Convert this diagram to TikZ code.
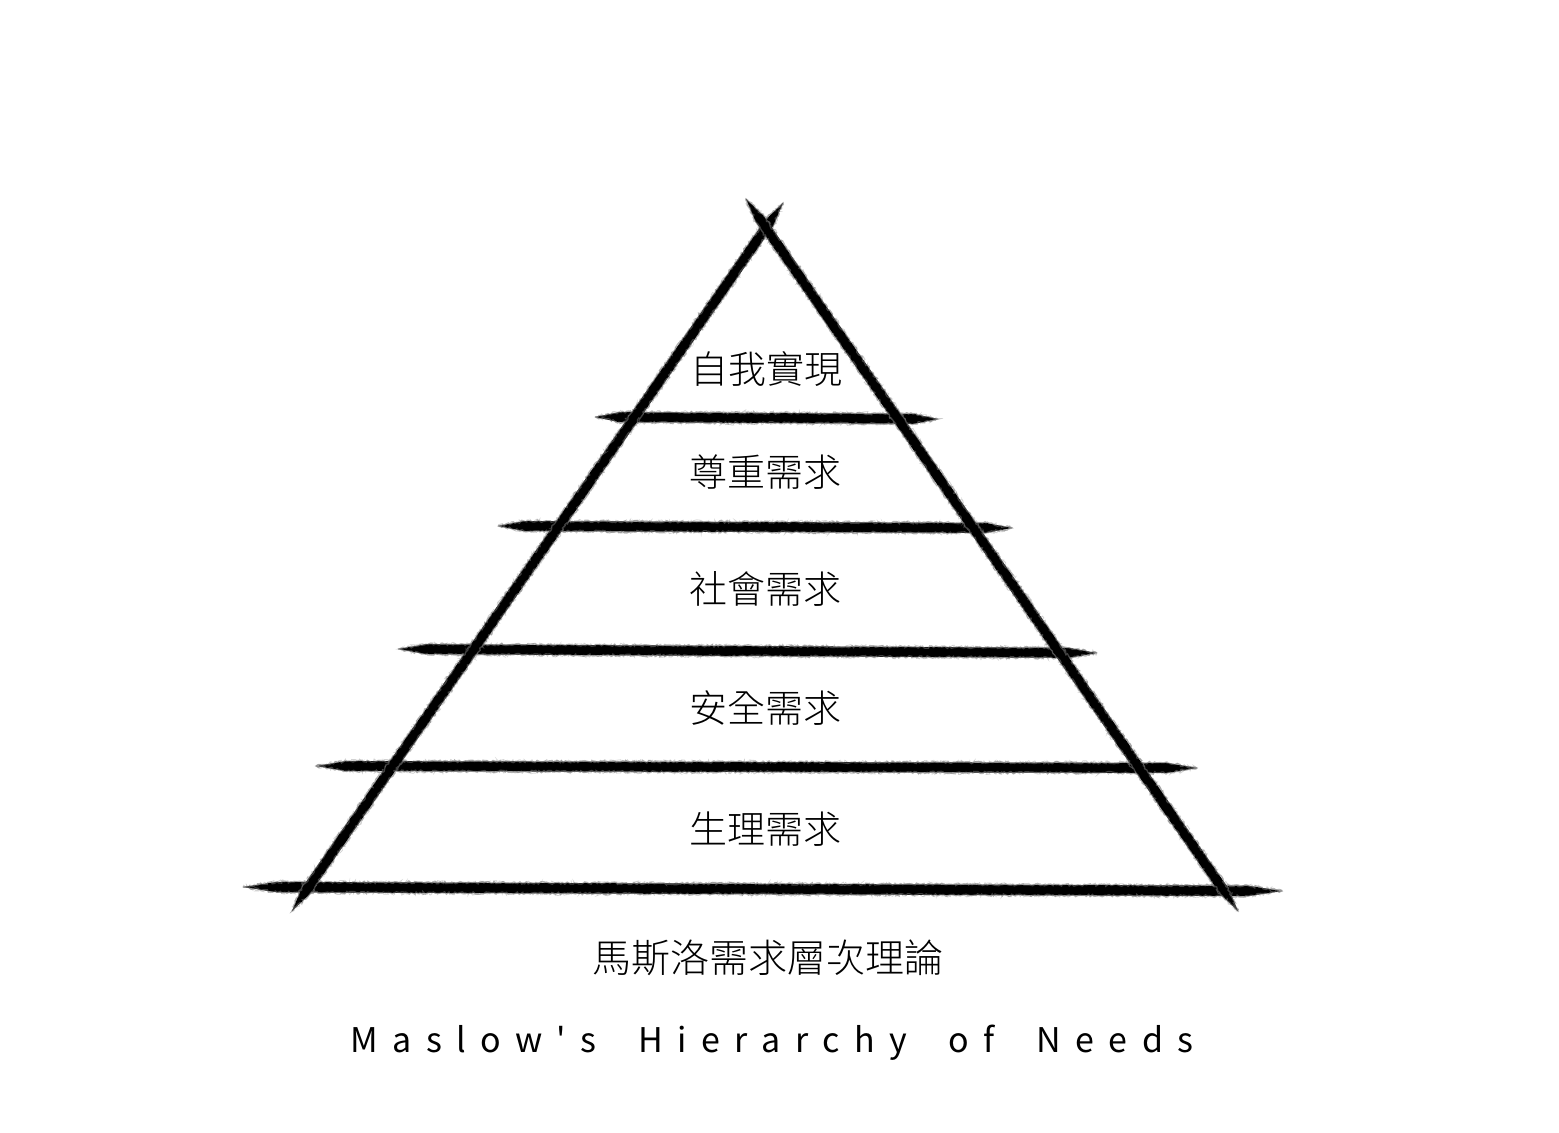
\documentclass[tikz,border=0pt]{standalone}
\usepackage{fontspec}
\usetikzlibrary{calc,decorations.pathmorphing}
\IfFontExistsTF{Noto Sans CJK TC Light}{%
  \newfontfamily\cjk{Noto Sans CJK TC Light}%
  \newfontfamily\latn{Noto Sans CJK TC}}{%
  \newfontfamily\cjk{Noto Sans CJK TC}%
  \newfontfamily\latn{Noto Sans CJK TC}}
\newcommand\ls{\hspace{14.3pt}}
\newcommand\ws{\hspace{42pt}}
\tikzset{
  chalkfill/.style={fill=black},
  chalkfuzz/.style={draw=black!55, line width=1.3pt, opacity=0.55, decorate,
    decoration={random steps, segment length=2pt, amplitude=1.2pt}},
  chalkhalo/.style={draw=black!40, line width=0.8pt, opacity=0.45, decorate,
    decoration={random steps, segment length=1.5pt, amplitude=2pt}},
  level/.style={inner sep=0pt, font=\cjk\fontsize{38}{40}\selectfont},
  title/.style={inner sep=0pt, font=\cjk\fontsize{39}{41}\selectfont},
  eng/.style={inner sep=0pt, font=\latn\fontsize{34}{36}\selectfont},
}
% #1,#2 end coordinates, #3 taper length, #4 half width
\newcommand\chalkpath[4]{(#1) -- ($(#1)!#3!(#2)!#4!90:(#2)$) -- ($(#2)!#3!(#1)!#4!-90:(#1)$) -- (#2)
    -- ($(#2)!#3!(#1)!#4!90:(#1)$) -- ($(#1)!#3!(#2)!#4!-90:(#2)$) -- cycle}
\newcommand\chalkline[4]{%
  \path[chalkhalo] \chalkpath{#1}{#2}{#3}{#4};
  \path[chalkfill] \chalkpath{#1}{#2}{#3}{#4};
  \path[chalkfuzz] \chalkpath{#1}{#2}{#3}{#4};
}
\begin{document}
\begin{tikzpicture}[x=1pt,y=-1pt]
\pgfmathsetseed{7}
\fill[white] (0,0) rectangle (1559,1133);
\useasboundingbox (0,0) rectangle (1559,1133);
% pyramid sides (crossing at the apex)
\coordinate (sLtop) at (783,203);
\coordinate (sLbot) at (292,911);
\coordinate (sRtop) at (746,199);
\coordinate (sRbot) at (1238,911);
% horizontal strata
\coordinate (h1a) at (595,417); \coordinate (h1b) at (938,419);
\coordinate (h2a) at (498,526); \coordinate (h2b) at (1012,528);
\coordinate (h3a) at (398,649); \coordinate (h3b) at (1097,653);
\coordinate (h4a) at (316,766); \coordinate (h4b) at (1197,768);
\coordinate (h5a) at (243,887); \coordinate (h5b) at (1282,891);
\chalkline{h1a}{h1b}{24pt}{5pt}
\chalkline{h2a}{h2b}{26pt}{5pt}
\chalkline{h3a}{h3b}{28pt}{5pt}
\chalkline{h4a}{h4b}{30pt}{5pt}
\chalkline{h5a}{h5b}{34pt}{5.2pt}
\chalkline{sLbot}{sLtop}{24pt}{5pt}
\chalkline{sRbot}{sRtop}{24pt}{5pt}
% labels
\node[level] (self)   at (766,369) {自我實現};
\node[level] (esteem) at (765,472) {尊重需求};
\node[level] (social) at (765,589) {社會需求};
\node[level] (safety) at (765,708) {安全需求};
\node[level] (physio) at (765,829) {生理需求};
\node[title] (ttl)    at (768,958) {馬斯洛需求層次理論};
\node[eng]   (en)     at (772,1043) {M\ls a\ls s\ls l\ls o\ls w\ls\textquotesingle\ls s\ws H\ls i\ls e\ls r\ls a\ls r\ls c\ls h\ls y\ws o\ls f\ws N\ls e\ls e\ls d\ls s};
\end{tikzpicture}
\end{document}
